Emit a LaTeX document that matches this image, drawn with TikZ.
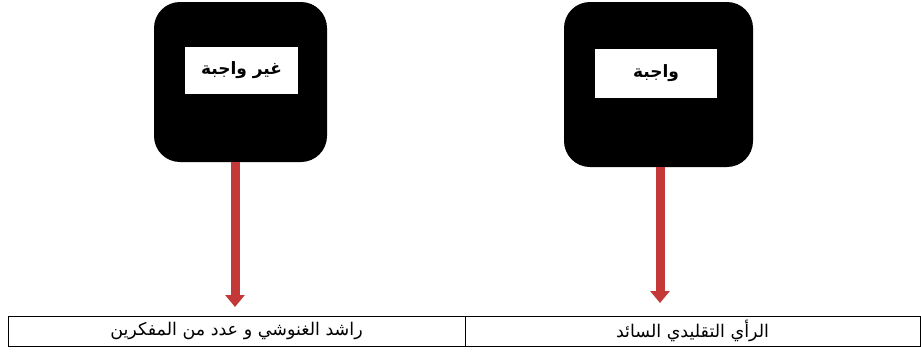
\documentclass[tikz,border=0pt]{standalone}
\usepackage{fontspec}
\usepackage{tikz}
\usepackage{xcolor}
\usetikzlibrary{arrows.meta,positioning,calc}
\TeXXeTstate=1
\newfontfamily\arabicfont[Script=Arabic]{DejaVu Sans}
\definecolor{arrowc}{RGB}{196,56,56}

\tikzset{
  darkbox/.style={fill=black,rounded corners=26pt,inner sep=0pt},
  labelbox/.style={fill=white,inner sep=0pt,font=\arabicfont\bfseries\fontsize{17}{19}\selectfont},
  cellbox/.style={draw=black,line width=0.8pt,inner sep=0pt,minimum height=30pt,
                  font=\arabicfont\fontsize{17.5}{19}\selectfont},
  downarrow/.style={draw=arrowc,line width=9pt,
                    -{Triangle[width=19pt,length=12pt,fill=arrowc]}}
}

\begin{document}
\begin{tikzpicture}[x=1pt,y=-1pt]
\useasboundingbox (0,0) rectangle (921,351);
% upper boxes
\node[darkbox,minimum width=173pt,minimum height=160pt] (notreq) at (240.5,82) {};
\node[darkbox,minimum width=189pt,minimum height=165pt] (req) at (658.5,84.5) {};
\node[labelbox,minimum width=113pt,minimum height=47pt] (notreqlbl) at (241.5,70.5)
  {\beginR غير واجبة\endR};
\node[labelbox,minimum width=122pt,minimum height=49pt] (reqlbl) at (656,73.5)
  {\beginR واجبة\endR};
% table
\node[cellbox,minimum width=457pt] (leftcell) at (236.5,331)
  {\beginR راشد الغنوشي و عدد من المفكرين\endR};
\node[cellbox,minimum width=455pt] (rightcell) at (692.5,331)
  {\beginR الرأي التقليدي السائد\endR};
% arrows
\coordinate (leftend) at (235,307);
\coordinate (rightend) at (660,303);
\draw[downarrow] (notreq.south -| leftend) -- (leftend);
\draw[downarrow] (req.south -| rightend) -- (rightend);
\end{tikzpicture}
\end{document}
